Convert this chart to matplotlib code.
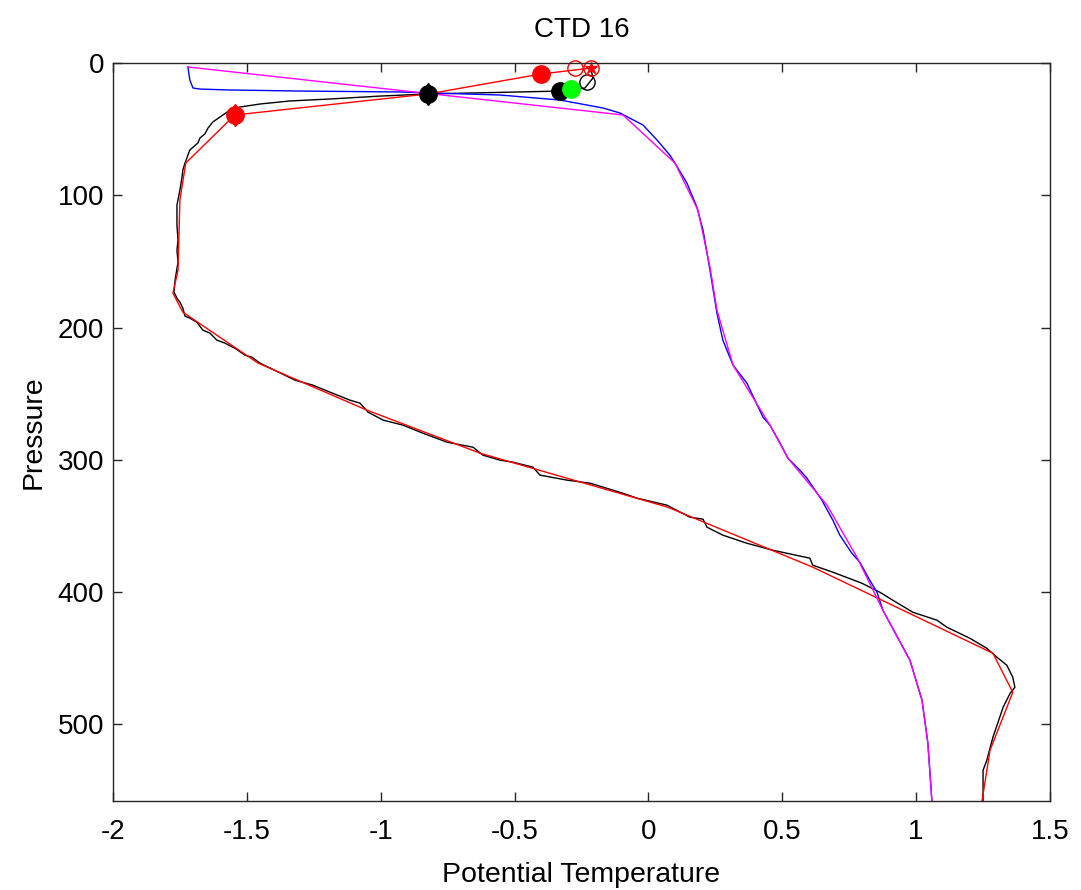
import matplotlib
matplotlib.use("Agg")
import matplotlib.pyplot as plt

plt.rcParams['font.family'] = ['Liberation Sans', 'DejaVu Sans']

# CTD profile (fine resolution): potential temperature vs pressure
ctd_theta = [-0.214, -0.207, -0.237, -0.330, -0.823, -1.002, -1.189, -1.339, -1.451, -1.526,
             -1.563, -1.600, -1.627, -1.645, -1.657, -1.675, -1.683, -1.713, -1.724, -1.731,
             -1.739, -1.742, -1.750, -1.761, -1.761, -1.757, -1.761, -1.757, -1.765, -1.768,
             -1.772, -1.761, -1.750, -1.739, -1.731, -1.713, -1.687, -1.664, -1.638, -1.612,
             -1.582, -1.545, -1.507, -1.481, -1.451, -1.320, -1.253, -1.189, -1.115, -1.077,
             -1.047, -0.991, -0.917, -0.842, -0.752, -0.655, -0.618, -0.554, -0.506, -0.431,
             -0.405, -0.304, -0.218, -0.095, -0.043, 0.069, 0.155, 0.204, 0.219, 0.278,
             0.368, 0.465, 0.603, 0.614, 0.689, 0.797, 0.865, 0.913, 0.988, 1.078,
             1.115, 1.201, 1.264, 1.302, 1.339, 1.361, 1.369, 1.351, 1.325, 1.287,
             1.264, 1.250, 1.250]
ctd_pres = [5.3, 11.3, 18.9, 21.2, 23.4, 25.0, 27.2, 28.7, 31.0, 33.3,
            35.6, 40.8, 44.6, 49.2, 53.7, 56.7, 60.5, 65.8, 71.9, 75.6,
            80.9, 86.2, 96.1, 107.4, 122.5, 133.9, 141.5, 150.5, 160.4, 164.1,
            173.2, 177.8, 180.8, 185.3, 191.4, 192.9, 195.9, 202.0, 204.2, 209.5,
            211.8, 215.6, 220.9, 222.4, 226.9, 239.8, 243.6, 248.9, 254.9, 257.2,
            264.0, 270.0, 273.8, 279.9, 286.7, 290.5, 296.5, 300.3, 301.8, 305.6,
            311.6, 315.4, 317.7, 325.3, 329.0, 334.3, 343.4, 344.9, 351.0, 357.0,
            363.1, 368.4, 374.4, 379.7, 385.0, 393.3, 400.2, 406.2, 415.3, 421.3,
            426.6, 435.0, 442.5, 449.3, 455.4, 464.4, 472.0, 476.6, 487.1, 509.8,
            527.2, 534.8, 558.2]

# bottle samples (coarse)
btl_theta = [-0.214, -0.401, -0.823, -1.545, -1.728, -1.750, -1.757, -1.776, -1.739,
             -1.458, -1.051, -0.629, 0.073, 0.614, 1.287, 1.361, 1.276, 1.246]
btl_pres = [3.8, 8.3, 23.4, 39.3, 75.6, 103.6, 156.6, 174.0, 188.4,
            226.9, 262.5, 295.0, 335.9, 381.2, 446.3, 475.8, 519.7, 558.2]

# second CTD profile (blue)
ctd2_theta = [-1.720, -1.713, -1.701, -1.675, -1.563, -1.301, -0.928, -0.554, -0.330, -0.170,
              -0.106, -0.020, 0.032, 0.080, 0.099, 0.144, 0.181, 0.204, 0.230, 0.256,
              0.278, 0.316, 0.368, 0.428, 0.454, 0.492, 0.521, 0.566, 0.592, 0.648,
              0.689, 0.715, 0.760, 0.790, 0.827, 0.854, 0.876, 0.977, 1.022, 1.044, 1.059]
ctd2_pres = [3.0, 12.9, 18.9, 19.7, 20.4, 21.2, 21.9, 24.2, 28.0, 34.0,
             37.8, 46.9, 58.2, 69.6, 75.6, 90.8, 108.9, 126.3, 156.6, 189.1,
             209.5, 228.4, 242.1, 267.8, 273.8, 287.4, 298.8, 307.9, 313.9, 330.6,
             345.7, 357.0, 370.7, 377.5, 391.1, 400.2, 413.8, 451.6, 481.8, 514.4, 558.2]

# second bottle set (magenta)
btl2_theta = [-1.720, -0.095, 0.099, 0.185, 0.230, 0.256, 0.316, 0.454, 0.521,
              0.667, 0.779, 0.876, 0.977, 1.022, 1.044, 1.059]
btl2_pres = [3.0, 39.3, 75.6, 111.2, 154.3, 186.8, 228.4, 273.8, 298.8,
             334.3, 373.7, 413.8, 451.6, 481.8, 514.4, 558.2]

# highlighted samples
red_pts_theta = [-0.401, -1.545]
red_pts_pres = [8.3, 39.3]
red_open_theta = [-0.274, -0.214]
red_open_pres = [3.8, 3.8]
blk_pts_theta = [-0.823, -0.330]
blk_pts_pres = [23.4, 21.2]
grn_theta = [-0.290]
grn_pres = [19.7]
blk_open_theta = [-0.230]
blk_open_pres = [14.4]

fig = plt.figure(figsize=(10.81, 8.90), dpi=100)
ax = fig.add_axes([0.1045, 0.1, 0.8668, 0.8292])

ax.plot(ctd_theta, ctd_pres, color='black', lw=1.0)
ax.plot(ctd2_theta, ctd2_pres, color='blue', lw=1.0)
ax.plot(btl_theta, btl_pres, color='red', lw=1.0)
ax.plot(btl2_theta, btl2_pres, color='magenta', lw=1.0)

# small spikes behind the filled circles
ax.plot(red_pts_theta[1:], red_pts_pres[1:], 'd', color='red', ms=11.5, clip_on=False)
ax.plot(blk_pts_theta[:1], blk_pts_pres[:1], 'd', color='black', ms=11.5, clip_on=False)
ax.plot(red_pts_theta, red_pts_pres, 'o', color='red', ms=12.5, clip_on=False)
ax.plot(blk_pts_theta, blk_pts_pres, 'o', color='black', ms=12.5, clip_on=False)
ax.plot(grn_theta, grn_pres, 'o', color='#00ff00', ms=12.5, clip_on=False)
ax.plot(blk_open_theta, blk_open_pres, 'o', mfc='none', mec='black', ms=11, mew=1.0, clip_on=False)
ax.plot(red_open_theta, red_open_pres, 'o', mfc='none', mec='red', ms=11, mew=1.0, clip_on=False)
ax.plot(red_open_theta[1:], red_open_pres[1:], '*', color='red', ms=9, clip_on=False)

ax.set_xlim(-2, 1.5)
ax.set_ylim(558, 0)
ax.set_xticks([-2, -1.5, -1, -0.5, 0, 0.5, 1, 1.5])
ax.set_xticklabels(['-2', '-1.5', '-1', '-0.5', '0', '0.5', '1', '1.5'])
ax.set_yticks([0, 100, 200, 300, 400, 500])

ax.tick_params(direction='in', top=True, right=True, length=6.5, width=1,
               labelsize=20, colors='#262626', labelcolor='black')
ax.tick_params(axis='x', pad=13)
ax.tick_params(axis='y', pad=6.5)
for s in ax.spines.values():
    s.set_color('#262626')
    s.set_linewidth(1)

ax.set_title('CTD 16', fontsize=20, pad=19)
ax.set_xlabel('Potential Temperature', fontsize=20.5, labelpad=12)
ax.set_ylabel('Pressure', fontsize=20.5, labelpad=8)

fig.savefig('out.png', dpi=100)
